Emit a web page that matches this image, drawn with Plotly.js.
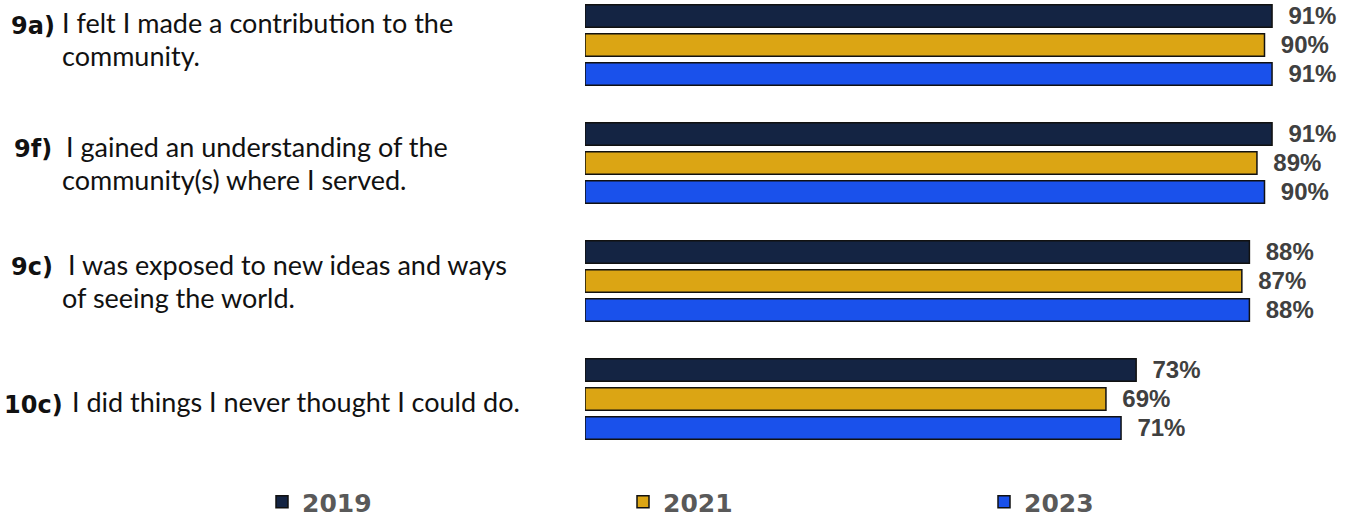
<!DOCTYPE html>
<html>
<head>
<meta charset="utf-8">
<script src="https://cdn.plot.ly/plotly-3.0.1.min.js"></script>
<style>html,body{margin:0;padding:0;background:#fff;}#chart{width:1356px;height:516px;}</style>
</head>
<body>
<div id="chart"></div>
<script>
// ---- data ----
const categories = ['9a', '9f', '9c', '10c'];
const prefixes = ['9a)', '9f)', '9c)', '10c)'];
const statements = [
  'I felt I made a contribution to the<br>community.',
  'I gained an understanding of the<br>community(s) where I served.',
  'I was exposed to new ideas and ways<br>of seeing the world.',
  'I did things I never thought I could do.'
];
const years = ['2019', '2021', '2023'];
const values2019 = [91, 91, 88, 73];
const values2021 = [90, 89, 87, 69];
const values2023 = [91, 90, 88, 71];

// ---- styles ----
const colors = ['#142443', '#DBA514', '#1A51EB'];
const W = 1356, H = 516;
const M = {l: 585, r: 16, t: 0, b: 46, autoexpand: false};
const plotW = W - M.l - M.r;
const plotH = H - M.t - M.b;
const px2paper = p => (p - M.l) / plotW;

const series = [values2019, values2021, values2023];
const traces = series.map((vals, i) => ({
  type: 'bar',
  orientation: 'h',
  name: years[i],
  y: categories,
  x: vals,
  marker: {color: colors[i], line: {color: '#111111', width: 1.5}},
  text: vals.map(v => '\u00A0\u00A0' + v + '%'),
  textposition: 'outside',
  constraintext: 'none',
  textfont: {family: 'Liberation Sans, Arial, sans-serif', size: 24, color: '#404040', weight: 'bold'},
  cliponaxis: false,
  hoverinfo: 'skip'
}));

const bodyFont = {family: 'Lato, sans-serif', size: 27, color: '#111111'};
const prefixFont = {family: 'DejaVu Sans, sans-serif', size: 24, color: '#111111', weight: 'bold'};
const lineGap = 33;
const firstLineX = [60, 64, 66, 70];
const restLineX = 60;
const prefixRight = [57, 54, 55, 65];
const blockOffset = [-6.5, -1, -1, 2];   // px below group centre
const prefixDrop = 3;

const annotations = [];
categories.forEach((c, i) => {
  const lines = statements[i].split('<br>');
  const n = lines.length;
  lines.forEach((ln, k) => {
    const off = blockOffset[i] + (k - (n - 1) / 2) * lineGap;
    annotations.push({
      xref: 'paper', yref: 'y', x: px2paper(k === 0 ? firstLineX[i] : restLineX), y: c,
      xanchor: 'left', yanchor: 'middle', align: 'left',
      text: ln, showarrow: false, font: bodyFont, yshift: -off - 1
    });
  });
  const off0 = blockOffset[i] - (n - 1) / 2 * lineGap + prefixDrop;
  annotations.push({
    xref: 'paper', yref: 'y', x: px2paper(prefixRight[i]), y: c,
    xanchor: 'right', yanchor: 'middle', align: 'right',
    text: prefixes[i], showarrow: false, font: prefixFont, yshift: -off0 - 1
  });
});

const layout = {
  width: W, height: H,
  margin: M,
  paper_bgcolor: '#ffffff', plot_bgcolor: '#ffffff',
  barmode: 'group',
  bargap: 0.263,
  bargroupgap: 0.22,
  xaxis: {range: [0, 100], visible: false, fixedrange: true},
  yaxis: {type: 'category', range: [3.602, -0.381], showticklabels: false,
          showgrid: false, zeroline: false, showline: false, ticks: '', fixedrange: true},
  showlegend: true,
  legend: {
    orientation: 'h', x: px2paper(262), xanchor: 'left', y: -(502 - plotH) / plotH, yanchor: 'middle',
    font: {family: 'DejaVu Sans, sans-serif', size: 25, color: '#595959', weight: 'bold'},
    entrywidth: 316, entrywidthmode: 'pixels', traceorder: 'normal'
  },
  annotations: annotations
};

Plotly.newPlot('chart', traces, layout, {displayModeBar: false, staticPlot: true});
</script>
</body>
</html>
